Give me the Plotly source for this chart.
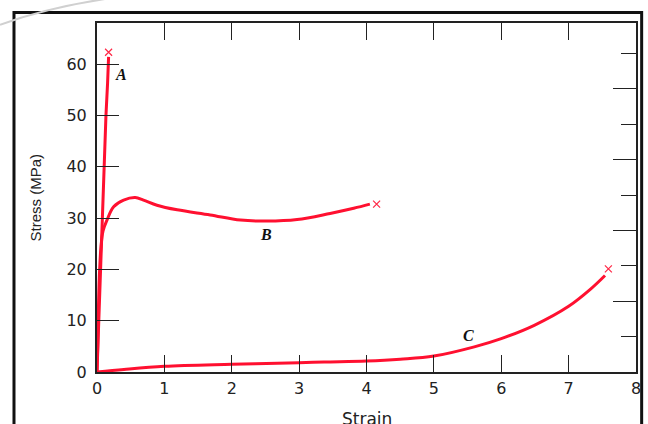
import plotly.graph_objects as go

# ---- data ----
A_strain = [0, 0.01, 0.03, 0.049, 0.083, 0.108, 0.133, 0.157, 0.172]
A_stress = [0, 4, 10, 20, 30, 40, 50, 56.3, 61.4]

B_strain = [0, 0.01, 0.024, 0.039, 0.059, 0.09, 0.148, 0.247, 0.395, 0.568,
            0.69, 0.89, 1.19, 1.68, 2.13, 2.52, 2.97, 3.46, 3.81, 4.05]
B_stress = [0, 4.9, 14, 19.9, 24.4, 27.5, 29.6, 32.2, 33.5, 34.0,
            33.5, 32.5, 31.6, 30.6, 29.6, 29.4, 29.7, 30.9, 31.9, 32.7]

C_strain = [0, 0.4, 1.0, 2.0, 3.0, 3.37, 4.0, 4.5, 5.0, 5.6, 6.0, 6.49, 7.0, 7.33, 7.54]
C_stress = [0, 0.5, 1.1, 1.5, 1.8, 1.95, 2.15, 2.5, 3.1, 4.9, 6.5, 9.1, 12.8, 16.2, 18.8]

fracture_strain = [0.172, 4.15, 7.59]
fracture_stress = [62.3, 32.7, 20.1]

curve_labels = ["A", "B", "C"]
label_strain = [0.36, 2.51, 5.52]
label_stress = [57.9, 26.8, 7.2]

x_ticks = [0, 1, 2, 3, 4, 5, 6, 7, 8]
y_ticks = [0, 10, 20, 30, 40, 50, 60]
MPA_PER_KSI = 6.895
Y_MAX = 68

RED = "rgb(255,16,48)"
AX = "#222222"

fig = go.Figure()
fig.add_trace(go.Scatter(x=A_strain, y=A_stress, mode="lines",
                         line=dict(color=RED, width=3), hoverinfo="skip"))
fig.add_trace(go.Scatter(x=B_strain, y=B_stress, mode="lines",
                         line=dict(color=RED, width=3, shape="spline"), hoverinfo="skip"))
fig.add_trace(go.Scatter(x=C_strain, y=C_stress, mode="lines",
                         line=dict(color=RED, width=3, shape="spline"), hoverinfo="skip"))
fig.add_trace(go.Scatter(x=fracture_strain, y=fracture_stress, mode="markers",
                         marker=dict(symbol="x-thin", size=7,
                                     line=dict(color="rgb(255,40,70)", width=1.2)),
                         hoverinfo="skip"))
# dummy trace to register the ksi axis on the right
fig.add_trace(go.Scatter(x=[None], y=[None], yaxis="y2", hoverinfo="skip"))

for t, sx, sy in zip(curve_labels, label_strain, label_stress):
    fig.add_annotation(x=sx, y=sy, text="<i><b>" + t + "</b></i>", showarrow=False,
                       font=dict(family="Liberation Serif", size=16, color="#111"))

fig.add_annotation(xref="paper", yref="paper", x=-0.115, y=0.5, text="Stress (MPa)",
                   textangle=-90, showarrow=False, xanchor="center", yanchor="middle",
                   font=dict(family="Liberation Sans", size=15, color="#222"))
fig.add_annotation(xref="paper", yref="paper", x=0.5, y=-0.135, text="Strain",
                   showarrow=False, xanchor="center", yanchor="middle",
                   font=dict(family="DejaVu Sans", size=17, color="#222"))

# outer frame and faint arc
fig.add_shape(type="rect", xref="paper", yref="paper", x0=-0.154, x1=1.0105,
              y0=-0.3, y1=1.03, line=dict(color="#111", width=3), layer="below")
fig.add_shape(type="path", xref="paper", yref="paper",
              path="M -0.18 0.995 Q -0.09 1.045 0.02 1.07",
              line=dict(color="#d0d0d0", width=2))

tickfont = dict(family="DejaVu Sans", size=16, color="#222")
fig.update_layout(
    width=648, height=424,
    margin=dict(l=97, r=12, t=23, b=52, autoexpand=False),
    paper_bgcolor="white", plot_bgcolor="white",
    showlegend=False,
    xaxis=dict(range=[0, 8], tickvals=x_ticks, ticks="inside", ticklen=17,
               tickwidth=1.3, tickcolor=AX, showline=True, linewidth=2, linecolor=AX,
               mirror="ticks", showgrid=False, zeroline=False, tickfont=tickfont,
               ticklabelstandoff=1, fixedrange=True, automargin=False),
    yaxis=dict(range=[0, Y_MAX], tickvals=y_ticks, ticks="inside", ticklen=22,
               tickwidth=1.3, tickcolor=AX, showline=True, linewidth=2, linecolor=AX,
               mirror=True, showgrid=False, zeroline=False, tickfont=tickfont,
               ticklabelstandoff=5, fixedrange=True, automargin=False),
    yaxis2=dict(range=[0, Y_MAX / MPA_PER_KSI], overlaying="y", side="right",
                tick0=0, dtick=2, ticks="inside", ticklen=23, tickwidth=1.3,
                tickcolor=AX, showticklabels=False, showgrid=False, zeroline=False,
                showline=False, automargin=False,
                minor=dict(dtick=1, tick0=0, ticks="inside", ticklen=15,
                           tickwidth=1.3, tickcolor=AX, showgrid=False),
                fixedrange=True),
)

fig.write_html("out.html", config={"displayModeBar": False},
               post_script="document.body.style.margin='0';document.body.style.overflow='hidden';")
